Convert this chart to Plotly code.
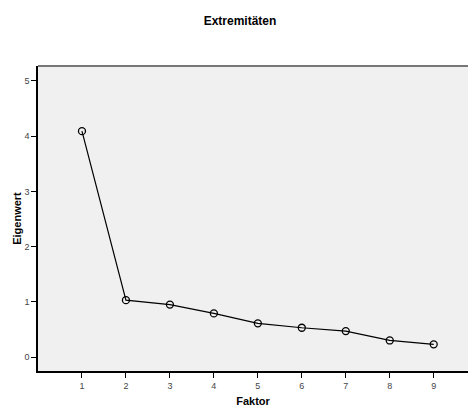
import plotly.graph_objects as go

factors = [1, 2, 3, 4, 5, 6, 7, 8, 9]
eigenvalues = [4.09, 1.03, 0.95, 0.79, 0.61, 0.53, 0.47, 0.30, 0.23]
x_ticks = [1, 2, 3, 4, 5, 6, 7, 8, 9]
y_ticks = [0, 1, 2, 3, 4, 5]

fig = go.Figure()
fig.add_trace(go.Scatter(
    x=factors, y=eigenvalues, mode="lines+markers",
    line=dict(color="black", width=1.2),
    marker=dict(symbol="circle-open", size=7, color="black", line=dict(width=1.3)),
    showlegend=False,
))

fig.update_layout(
    width=468, height=407,
    margin=dict(l=38, r=0, t=66, b=36),
    paper_bgcolor="white", plot_bgcolor="#F0F0F0",
    font=dict(family="Liberation Sans, Arial", color="#333"),
    title=dict(text="<b>Extremitäten</b>", x=240/468, xanchor="center",
               y=1-21/407, yanchor="middle", font=dict(size=12, color="black")),
    xaxis=dict(range=[0, 9.78], tickvals=x_ticks, ticks="outside", ticklen=5,
               tickcolor="black", showgrid=False, zeroline=False,
               showline=True, linecolor="black", linewidth=1.5,
               tickfont=dict(size=9, color="#444"),
               title=dict(text="<b>Faktor</b>", font=dict(size=11, color="black"), standoff=8)),
    yaxis=dict(range=[-0.253, 5.27], tickvals=y_ticks, ticks="outside", ticklen=5,
               tickcolor="black", showgrid=False, zeroline=False,
               showline=True, linecolor="black", linewidth=1.5,
               tickfont=dict(size=9, color="#444"),
               title=dict(text="<b>Eigenwert</b>", font=dict(size=11, color="black"), standoff=1)),
)
fig.add_shape(type="line", xref="paper", yref="paper", x0=0, x1=1, y0=1, y1=1,
              line=dict(color="#777", width=2))

fig.write_html("out.html")
